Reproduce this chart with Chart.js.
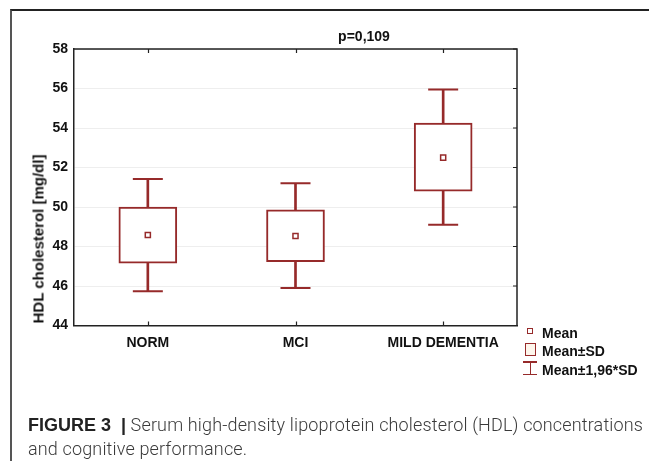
<!DOCTYPE html>
<html>
<head>
<meta charset="utf-8">
<script src="https://cdn.jsdelivr.net/npm/chart.js@4/dist/chart.umd.min.js"></script>
<style>
  html, body { margin: 0; padding: 0; background: #fff; }
  body { width: 649px; height: 461px; position: relative; overflow: hidden; font-family: "Liberation Sans", Arial, sans-serif; }
  #frame { position: absolute; left: 10px; top: 9px; width: 700px; height: 500px; border-left: 2px solid #555; border-top: 2px solid #222; }
  #wrap { position: absolute; left: 0; top: 0; width: 649px; height: 461px; }
  .txt { position: absolute; font-weight: bold; font-size: 14px; color: #111; white-space: nowrap; }
  #title { left: 364px; top: 36px; transform: translate(-50%, -50%); }
  #ytitle { left: 38px; top: 239px; font-size: 15px; transform: translate(-50%, -50%) rotate(-90deg); }
  .leg { left: 542px; transform: translateY(-50%); }
  .ico { position: absolute; box-sizing: border-box; }
  #caption { position: absolute; left: 28px; top: 413px; font-family: Roboto, "Liberation Sans", sans-serif; font-weight: 300; font-size: 18px; line-height: 23px; letter-spacing: 0.15px; color: #3a3a3a; white-space: nowrap; }
  #caption b { font-weight: bold; font-family: "Liberation Sans", Arial, sans-serif; color: #222; letter-spacing: 0; }
</style>
</head>
<body>
<div id="frame"></div>
<div id="wrap"><canvas id="chart" width="649" height="461"></canvas></div>
<div class="txt" id="title">p=0,109</div>
<div class="txt" id="ytitle">HDL cholesterol [mg/dl]</div>

<div class="ico" style="left:527px;top:328px;width:6px;height:6px;border:1.5px solid #962a2a;background:#fff;"></div>
<div class="txt leg" style="top:333px;">Mean</div>
<div class="ico" style="left:525px;top:343px;width:11px;height:13px;border:1.5px solid #962a2a;background:#fdf6ec;"></div>
<div class="txt leg" style="top:351px;">Mean±SD</div>
<div class="ico" style="left:523px;top:361px;width:14px;height:1.5px;background:#962a2a;"></div>
<div class="ico" style="left:529.5px;top:361px;width:1.5px;height:14px;background:#962a2a;"></div>
<div class="ico" style="left:523px;top:373.5px;width:14px;height:1.5px;background:#962a2a;"></div>
<div class="txt leg" style="top:370px;">Mean±1,96*SD</div>

<div id="caption"><b>FIGURE 3 &nbsp;|</b> Serum high-density lipoprotein cholesterol (HDL) concentrations<br>and cognitive performance.</div>

<script>
// values
const groups = ['NORM', 'MCI', 'MILD DEMENTIA'];
const means = [48.58, 48.53, 52.5];
const sdLow = [47.15, 47.23, 50.8];
const sdHigh = [50.0, 49.86, 54.25];
const ciLow = [45.73, 45.9, 49.1];
const ciHigh = [51.42, 51.2, 55.95];
const yTicks = [44, 46, 48, 50, 52, 54, 56, 58];

const red = '#962a2a';

// top/right border of the plot and the small inward ticks
const frameTicks = {
    id: 'frameTicks',
    afterDraw(chart) {
        const ctx = chart.ctx;
        const a = chart.chartArea;
        const x = chart.scales.x;
        const y = chart.scales.y;
        ctx.save();
        ctx.strokeStyle = '#222';
        ctx.lineWidth = 1.5;
        ctx.beginPath();
        ctx.moveTo(a.left, a.top);
        ctx.lineTo(a.right, a.top);
        ctx.lineTo(a.right, a.bottom);
        ctx.stroke();
        ctx.lineWidth = 1.2;
        ctx.beginPath();
        groups.forEach((g, i) => {
            const px = Math.round(x.getPixelForValue(i)) + 0.5;
            ctx.moveTo(px, a.top);
            ctx.lineTo(px, a.top + 4);
            ctx.moveTo(px, a.bottom);
            ctx.lineTo(px, a.bottom - 4);
        });
        yTicks.forEach(v => {
            const py = y.getPixelForValue(v);
            ctx.moveTo(a.right, py);
            ctx.lineTo(a.right - 4, py);
        });
        ctx.stroke();
        ctx.restore();
    }
};

const ctx = document.getElementById('chart').getContext('2d');
new Chart(ctx, {
    type: 'bar',
    data: {
        labels: groups,
        datasets: [
            {
                type: 'line',
                label: 'Mean',
                data: means,
                showLine: false,
                pointStyle: 'rect',
                pointRadius: 3.6,
                pointBorderWidth: 1.5,
                pointBorderColor: red,
                pointBackgroundColor: '#fff'
            },
            {
                type: 'line',
                label: 'cap high',
                data: ciHigh,
                showLine: false,
                pointStyle: 'line',
                pointRadius: 15,
                pointBorderWidth: 2,
                pointBorderColor: red
            },
            {
                type: 'line',
                label: 'cap low',
                data: ciLow,
                showLine: false,
                pointStyle: 'line',
                pointRadius: 15,
                pointBorderWidth: 2,
                pointBorderColor: red
            },
            {
                label: 'Mean±SD',
                data: groups.map((g, i) => [sdLow[i], sdHigh[i]]),
                grouped: false,
                barThickness: 58,
                backgroundColor: '#fff',
                borderColor: red,
                borderWidth: 2,
                borderSkipped: false
            },
            {
                label: 'Mean±1,96*SD',
                data: groups.map((g, i) => [ciLow[i], ciHigh[i]]),
                grouped: false,
                barThickness: 2,
                backgroundColor: red,
                borderWidth: 0
            }
        ]
    },
    options: {
        responsive: false,
        animation: false,
        events: [],
        layout: { padding: { top: 49, right: 132, bottom: 105.5, left: 0 } },
        plugins: { legend: { display: false }, tooltip: { enabled: false } },
        scales: {
            x: {
                grid: { display: false, drawTicks: false },
                border: { color: '#222', width: 1.5 },
                ticks: { color: '#111', padding: 9, font: { family: 'Liberation Sans', size: 14, weight: 'bold' } },
                afterFit(s) { s.height = 30; }
            },
            y: {
                min: 44,
                max: 58,
                afterBuildTicks(s) { s.ticks = yTicks.map(v => ({ value: v })); },
                grid: { color: '#eeeeee', drawTicks: false },
                border: { color: '#222', width: 1.5 },
                ticks: { color: '#111', padding: 6, font: { family: 'Liberation Sans', size: 14, weight: 'bold' } },
                afterFit(s) { s.width = 74; }
            }
        }
    },
    plugins: [frameTicks]
});
</script>
</body>
</html>
